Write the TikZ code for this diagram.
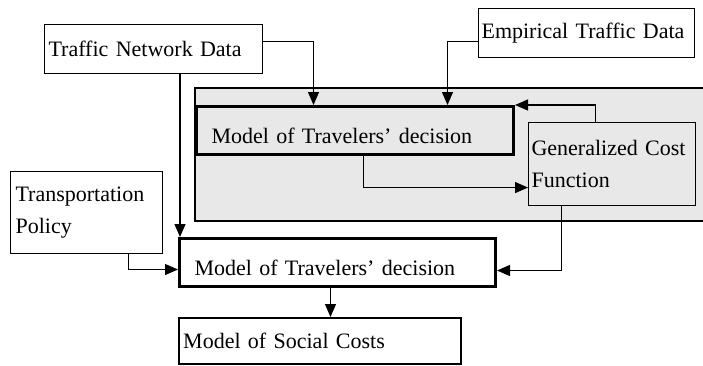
\documentclass[tikz,border=0pt]{standalone}
\usepackage{fontspec}
\setmainfont{Liberation Serif}
\usetikzlibrary{arrows.meta, positioning}

\begin{document}
\begin{tikzpicture}[
    x=1pt, y=-1pt, % Work in points, y axis pointing down
    >={Triangle[length=13pt, width=11pt]}, % Set default arrow tip style
    box/.style={draw, anchor=north west, align=left, inner xsep=4pt, inner ysep=0pt, line width=1.1pt, font=\fontsize{22}{32}\selectfont}, % Style for plain boxes
    model/.style={box, line width=3pt, inner xsep=15pt, text height=25pt, text depth=0pt}, % Style for model boxes
    link/.style={->, line width=1.1pt}, % Style for connectors
    panel/.style={draw, line width=1.1pt, fill=black!9} % Style for the shaded panel
]

    % Page frame
    \useasboundingbox (0,0) rectangle (703,365);
    \clip (0,0) rectangle (703,365);

    % Shaded panel behind the inner loop
    \draw[panel] (195,88) rectangle (712,221);

    % Data and policy inputs
    \node[box, text width=210pt, minimum height=49pt] (tnd) at (44,24) {Traffic Network Data};
    \node[box, text width=210pt, minimum height=49pt, inner xsep=3pt] (emp) at (478,8) {Empirical Traffic Data};
    \node[box, text width=142pt, minimum height=82pt, inner xsep=5pt] (tp) at (10,171) {Transportation\\Policy};

    % Inner loop: decision model and cost function
    \node[model, text width=287pt, minimum height=48pt] (mtd1) at (195,105) {Model of Travelers' decision};
    \node[box, text width=161pt, minimum height=83pt, inner xsep=3pt] (gcf) at (528,122) {Generalized Cost\\Function};

    % Outer models
    \node[model, text width=286pt, minimum height=48pt] (mtd2) at (178,237) {Model of Travelers' decision};
    \node[model, line width=2.4pt, inner xsep=4pt, text height=15pt, text width=274pt, minimum height=46pt] (social) at (178,317) {Model of Social Costs};

    % Inputs into the inner decision model
    \draw[link] ([yshift=7.5pt]tnd.east) -| ([xshift=-41.5pt]mtd1.north);
    \draw[link] ([yshift=-8.5pt]emp.west) -| ([xshift=92.5pt]mtd1.north);

    % Loop between decision model and cost function
    \draw[link] ([xshift=8.5pt]mtd1.south) |- ([yshift=-23.5pt]gcf.west);
    \draw[link] ([xshift=-16.5pt]gcf.north) |- (mtd1.north east);

    % Inputs into the outer decision model
    \draw[link] ([xshift=2pt]mtd2.north west |- tnd.south) -- ([xshift=2pt]mtd2.north west);
    \draw[link] ([xshift=42pt]tp.south) |- ([yshift=-7pt]mtd2.west);
    \draw[link] ([xshift=-50.5pt]gcf.south) |- ([yshift=-8pt]mtd2.east);

    % Decision model feeds social costs
    \draw[link] ([xshift=-7pt]mtd2.south) -- ([xshift=-7pt]mtd2.south |- social.north);

\end{tikzpicture}
\end{document}
